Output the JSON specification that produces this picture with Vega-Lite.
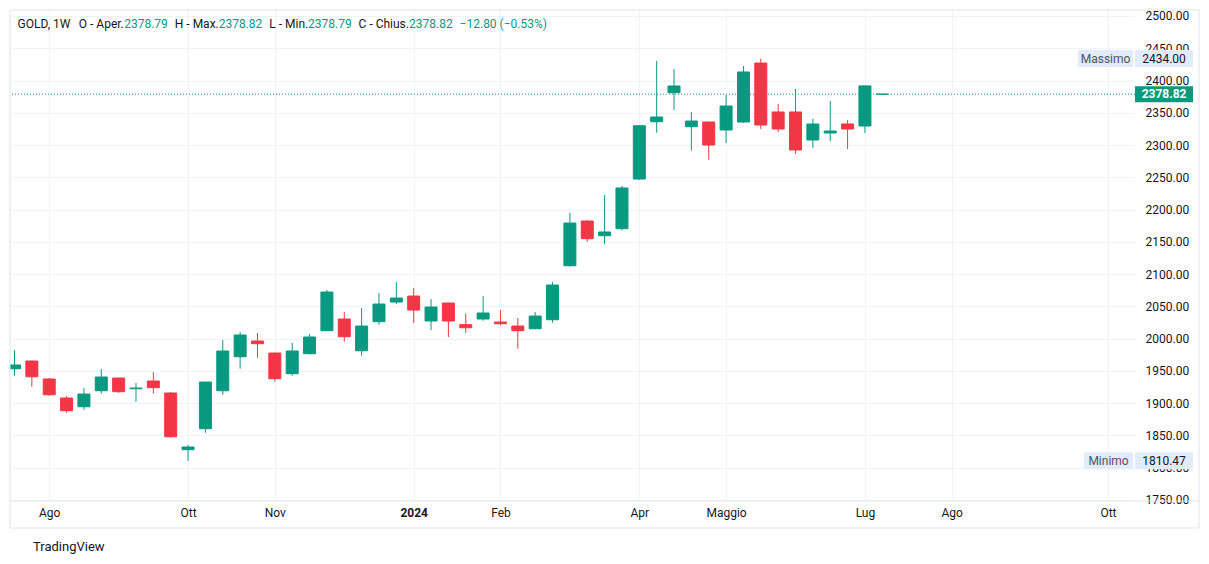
{
  "$schema": "https://vega.github.io/schema/vega-lite/v6.json",
  "width": 1125,
  "height": 491,
  "autosize": {"type": "none"},
  "padding": {"left": 10, "top": 10, "right": 74, "bottom": 63},
  "background": "white",
  "title": {"text": "TradingView", "orient": "bottom", "anchor": "start", "frame": "group", "dx": 23, "offset": 13, "fontSize": 13, "font": "Roboto", "fontWeight": "normal", "color": "#131722"},
  "config": {"view": {"stroke": null}, "font": "Roboto"},
  "resolve": {"axis": {"x": "independent", "y": "independent"}},
  "datasets": {
    "candles": [
      {"d": "2023-07-24", "o": 1953.2, "h": 1982.2, "l": 1942.4, "c": 1959.0},
      {"d": "2023-07-31", "o": 1965.2, "h": 1965.5, "l": 1925.3, "c": 1940.8},
      {"d": "2023-08-07", "o": 1937.3, "h": 1938.8, "l": 1911.4, "c": 1912.9},
      {"d": "2023-08-14", "o": 1907.8, "h": 1910.9, "l": 1885.0, "c": 1888.1},
      {"d": "2023-08-21", "o": 1894.3, "h": 1923.3, "l": 1889.7, "c": 1914.0},
      {"d": "2023-08-28", "o": 1919.1, "h": 1952.8, "l": 1914.5, "c": 1940.4},
      {"d": "2023-09-04", "o": 1938.8, "h": 1939.0, "l": 1916.0, "c": 1917.6},
      {"d": "2023-09-11", "o": 1922.2, "h": 1931.1, "l": 1902.1, "c": 1923.3},
      {"d": "2023-09-18", "o": 1934.2, "h": 1948.1, "l": 1914.5, "c": 1923.8},
      {"d": "2023-09-25", "o": 1915.6, "h": 1917.1, "l": 1846.3, "c": 1847.8},
      {"d": "2023-10-02", "o": 1827.7, "h": 1835.0, "l": 1810.47, "c": 1831.9},
      {"d": "2023-10-09", "o": 1860.2, "h": 1932.8, "l": 1854.0, "c": 1932.6},
      {"d": "2023-10-16", "o": 1919.1, "h": 1997.7, "l": 1912.9, "c": 1980.7},
      {"d": "2023-10-23", "o": 1971.8, "h": 2010.1, "l": 1953.2, "c": 2005.5},
      {"d": "2023-10-30", "o": 1996.2, "h": 2008.6, "l": 1970.3, "c": 1992.0},
      {"d": "2023-11-06", "o": 1977.6, "h": 1978.0, "l": 1933.1, "c": 1937.7},
      {"d": "2023-11-13", "o": 1945.5, "h": 1993.1, "l": 1942.4, "c": 1980.7},
      {"d": "2023-11-20", "o": 1976.5, "h": 2007.0, "l": 1975.5, "c": 2002.4},
      {"d": "2023-11-27", "o": 2012.2, "h": 2075.2, "l": 2011.5, "c": 2072.1},
      {"d": "2023-12-04", "o": 2030.3, "h": 2041.1, "l": 1995.1, "c": 2002.8},
      {"d": "2023-12-11", "o": 1981.1, "h": 2047.3, "l": 1973.4, "c": 2019.4},
      {"d": "2023-12-18", "o": 2026.1, "h": 2070.6, "l": 2021.5, "c": 2053.5},
      {"d": "2023-12-25", "o": 2056.6, "h": 2087.6, "l": 2053.5, "c": 2062.8},
      {"d": "2024-01-01", "o": 2065.9, "h": 2078.3, "l": 2024.1, "c": 2044.2},
      {"d": "2024-01-08", "o": 2027.2, "h": 2061.3, "l": 2013.2, "c": 2048.9},
      {"d": "2024-01-15", "o": 2055.1, "h": 2055.5, "l": 2002.4, "c": 2027.2},
      {"d": "2024-01-22", "o": 2021.5, "h": 2038.5, "l": 2009.0, "c": 2016.8},
      {"d": "2024-01-29", "o": 2030.3, "h": 2065.9, "l": 2027.6, "c": 2039.6},
      {"d": "2024-02-05", "o": 2025.6, "h": 2044.2, "l": 2021.0, "c": 2023.0},
      {"d": "2024-02-12", "o": 2019.4, "h": 2031.8, "l": 1984.2, "c": 2012.2},
      {"d": "2024-02-19", "o": 2015.2, "h": 2041.1, "l": 2014.5, "c": 2034.9},
      {"d": "2024-02-26", "o": 2029.2, "h": 2087.6, "l": 2024.5, "c": 2083.0},
      {"d": "2024-03-04", "o": 2112.9, "h": 2195.1, "l": 2111.4, "c": 2179.1},
      {"d": "2024-03-11", "o": 2182.2, "h": 2183.8, "l": 2150.1, "c": 2154.8},
      {"d": "2024-03-18", "o": 2159.4, "h": 2222.5, "l": 2147.0, "c": 2165.2},
      {"d": "2024-03-25", "o": 2170.3, "h": 2236.5, "l": 2167.2, "c": 2233.4},
      {"d": "2024-04-01", "o": 2247.3, "h": 2330.5, "l": 2245.8, "c": 2329.9},
      {"d": "2024-04-08", "o": 2336.1, "h": 2430.2, "l": 2319.1, "c": 2343.4},
      {"d": "2024-04-15", "o": 2381.1, "h": 2417.8, "l": 2354.3, "c": 2391.5},
      {"d": "2024-04-22", "o": 2328.4, "h": 2351.2, "l": 2291.2, "c": 2337.2},
      {"d": "2024-04-29", "o": 2335.7, "h": 2336.0, "l": 2277.2, "c": 2300.0},
      {"d": "2024-05-06", "o": 2323.3, "h": 2377.5, "l": 2303.1, "c": 2360.5},
      {"d": "2024-05-13", "o": 2335.7, "h": 2422.5, "l": 2334.1, "c": 2413.2},
      {"d": "2024-05-20", "o": 2427.1, "h": 2434.0, "l": 2324.8, "c": 2331.0},
      {"d": "2024-05-27", "o": 2351.2, "h": 2363.6, "l": 2320.2, "c": 2324.8},
      {"d": "2024-06-03", "o": 2351.2, "h": 2386.8, "l": 2286.1, "c": 2292.3},
      {"d": "2024-06-10", "o": 2307.8, "h": 2340.3, "l": 2295.4, "c": 2332.6},
      {"d": "2024-06-17", "o": 2318.6, "h": 2368.2, "l": 2306.2, "c": 2321.7},
      {"d": "2024-06-24", "o": 2332.6, "h": 2338.8, "l": 2293.8, "c": 2324.8},
      {"d": "2024-07-01", "o": 2329.5, "h": 2392.0, "l": 2318.6, "c": 2391.62},
      {"d": "2024-07-08", "o": 2378.79, "h": 2378.82, "l": 2378.79, "c": 2378.82}
    ],
    "legend": [
      {"seg": "GOLD, 1W", "t": "2023-07-25T05:00:00Z", "kind": "l"},
      {"seg": "O - Aper.", "t": "2023-08-18T22:20:00Z", "kind": "l"},
      {"seg": "2378.79", "t": "2023-09-06T05:50:00Z", "kind": "v"},
      {"seg": "H - Max.", "t": "2023-09-26T15:40:00Z", "kind": "l"},
      {"seg": "2378.82", "t": "2023-10-14T08:40:00Z", "kind": "v"},
      {"seg": "L - Min.", "t": "2023-11-03T18:30:00Z", "kind": "l"},
      {"seg": "2378.79", "t": "2023-11-19T09:10:00Z", "kind": "v"},
      {"seg": "C - Chius.", "t": "2023-12-09T18:40:00Z", "kind": "l"},
      {"seg": "2378.82", "t": "2023-12-30T02:40:00Z", "kind": "v"},
      {"seg": "−12.80 (−0.53%)", "t": "2024-01-19T12:30:00Z", "kind": "v"}
    ]
  },
  "layer": [
    {
      "data": {"name": "candles"},
      "mark": {"type": "rule", "clip": true, "strokeWidth": 1},
      "encoding": {
        "x": {"field": "d", "type": "temporal", "scale": {"type": "utc", "padding": 0, "domain": [{"year": 2023, "month": 7, "date": 22, "hours": 4, "minutes": 26, "utc": true}, {"year": 2024, "month": 10, "date": 17, "hours": 22, "utc": true}]}, "axis": {"orient": "bottom", "title": null, "values": [{"year": 2023, "month": 8, "date": 7, "utc": true}, {"year": 2023, "month": 10, "date": 2, "utc": true}, {"year": 2023, "month": 11, "date": 6, "utc": true}, {"year": 2024, "month": 1, "date": 1, "utc": true}, {"year": 2024, "month": 2, "date": 5, "utc": true}, {"year": 2024, "month": 4, "date": 1, "utc": true}, {"year": 2024, "month": 5, "date": 6, "utc": true}, {"year": 2024, "month": 7, "date": 1, "utc": true}, {"year": 2024, "month": 8, "date": 5, "utc": true}, {"year": 2024, "month": 10, "date": 7, "utc": true}], "labelExpr": "utcmonth(datum.value) == 0 ? utcFormat(datum.value, '%Y') : ['Gen','Feb','Mar','Apr','Maggio','Giu','Lug','Ago','Set','Ott','Nov','Dic'][utcmonth(datum.value)]", "labelFontWeight": {"condition": {"test": "utcmonth(datum.value) == 0", "value": "bold"}, "value": "normal"}, "grid": true, "gridColor": "#f0f3fa", "ticks": false, "domain": false, "labelPadding": 6, "labelFontSize": 12, "labelFont": "Roboto", "labelColor": "#131722", "labelFlush": false, "labelOverlap": false}},
        "y": {"field": "l", "type": "quantitative", "scale": {"domain": [1748.2, 2509.3], "nice": false, "zero": false, "padding": 0}, "axis": {"orient": "right", "title": null, "values": [1750, 1800, 1850, 1900, 1950, 2000, 2050, 2100, 2150, 2200, 2250, 2300, 2350, 2400, 2450, 2500], "format": ".2f", "grid": true, "gridColor": "#f0f3fa", "ticks": false, "domain": false, "labelPadding": 10, "labelFontSize": 12, "labelFont": "Roboto", "labelColor": "#131722", "labelOverlap": false, "labelFlush": false}},
        "y2": {"field": "h"},
        "color": {"condition": {"test": "datum.c >= datum.o", "value": "#089981"}, "value": "#F23645"}
      }
    },
    {
      "data": {"values": [{}]},
      "mark": {"type": "rule", "color": "#089981", "strokeDash": [1, 2], "strokeWidth": 1},
      "encoding": {
        "y": {"datum": 2378.82, "type": "quantitative", "axis": null}
      }
    },
    {
      "data": {"name": "candles"},
      "mark": {"type": "bar", "clip": true, "width": 12, "strokeWidth": 1},
      "encoding": {
        "x": {"field": "d", "type": "temporal", "axis": null},
        "y": {"field": "o", "type": "quantitative", "axis": null},
        "y2": {"field": "c"},
        "color": {"condition": {"test": "datum.c >= datum.o", "value": "#089981"}, "value": "#F23645"},
        "stroke": {"condition": {"test": "datum.c >= datum.o", "value": "#089981"}, "value": "#F23645"}
      }
    },
    {
      "data": {"values": [{}]},
      "mark": {"type": "rect", "filled": false, "stroke": "#e0e3eb", "strokeWidth": 1, "clip": false},
      "encoding": {
        "x": {"datum": {"year": 2023, "month": 7, "date": 22, "hours": 4, "minutes": 26, "utc": true}, "type": "temporal", "axis": null},
        "x2": {"datum": {"year": 2024, "month": 11, "date": 12, "hours": 17, "minutes": 45, "utc": true}},
        "y": {"datum": 2509.3, "type": "quantitative", "axis": null},
        "y2": {"datum": 1706.35}
      }
    },
    {
      "data": {"values": [{}]},
      "mark": {"type": "rule", "color": "#e0e3eb", "strokeWidth": 1, "clip": false},
      "encoding": {
        "x": {"datum": {"year": 2023, "month": 7, "date": 22, "hours": 4, "minutes": 26, "utc": true}, "type": "temporal", "axis": null},
        "x2": {"datum": {"year": 2024, "month": 11, "date": 12, "hours": 17, "minutes": 45, "utc": true}},
        "y": {"datum": 1748.2, "type": "quantitative", "axis": null}
      }
    },
    {
      "data": {"name": "legend"},
      "mark": {"type": "text", "align": "left", "baseline": "middle", "fontSize": 12, "font": "Roboto", "clip": false},
      "encoding": {
        "x": {"field": "t", "type": "temporal", "axis": null},
        "y": {"datum": 2487.6, "type": "quantitative", "axis": null},
        "text": {"field": "seg"},
        "color": {"condition": {"test": "datum.kind == 'v'", "value": "#089981"}, "value": "#131722"}
      }
    },
    {
      "data": {"values": [{"name": "Massimo", "price": 2434.0}]},
      "mark": {"type": "point", "shape": "M-1,-0.309L1,-0.309L1,0.309L-1,0.309Z", "size": 3025, "filled": true, "opacity": 1, "color": "#e1ebf9", "strokeWidth": 0, "clip": false},
      "encoding": {
        "x": {"datum": {"year": 2024, "month": 10, "date": 6, "hours": 1, "utc": true}, "type": "temporal", "axis": null},
        "y": {"field": "price", "type": "quantitative", "axis": null}
      }
    },
    {
      "data": {"values": [{"name": "Minimo", "price": 1810.47}]},
      "mark": {"type": "point", "shape": "M-1,-0.347L1,-0.347L1,0.347L-1,0.347Z", "size": 2401, "filled": true, "opacity": 1, "color": "#e1ebf9", "strokeWidth": 0, "clip": false},
      "encoding": {
        "x": {"datum": {"year": 2024, "month": 10, "date": 7, "hours": 6, "utc": true}, "type": "temporal", "axis": null},
        "y": {"field": "price", "type": "quantitative", "axis": null}
      }
    },
    {
      "data": {"values": [{"name": "Massimo", "price": 2434.0}, {"name": "Minimo", "price": 1810.47}]},
      "mark": {"type": "point", "shape": "M-1,-0.293L1,-0.293L1,0.293L-1,0.293Z", "size": 3364, "filled": true, "opacity": 1, "color": "#e1ebf9", "strokeWidth": 0, "clip": false},
      "encoding": {
        "x": {"datum": {"year": 2024, "month": 10, "date": 29, "hours": 15, "utc": true}, "type": "temporal", "axis": null},
        "y": {"field": "price", "type": "quantitative", "axis": null}
      }
    },
    {
      "data": {"values": [{"name": "Massimo", "price": 2434.0}]},
      "mark": {"type": "text", "align": "center", "baseline": "middle", "fontSize": 12, "font": "Roboto", "color": "#50535e", "clip": false},
      "encoding": {
        "x": {"datum": {"year": 2024, "month": 10, "date": 6, "hours": 1, "utc": true}, "type": "temporal", "axis": null},
        "y": {"field": "price", "type": "quantitative", "axis": null},
        "text": {"field": "name"}
      }
    },
    {
      "data": {"values": [{"name": "Minimo", "price": 1810.47}]},
      "mark": {"type": "text", "align": "center", "baseline": "middle", "fontSize": 12, "font": "Roboto", "color": "#50535e", "clip": false},
      "encoding": {
        "x": {"datum": {"year": 2024, "month": 10, "date": 7, "hours": 6, "utc": true}, "type": "temporal", "axis": null},
        "y": {"field": "price", "type": "quantitative", "axis": null},
        "text": {"field": "name"}
      }
    },
    {
      "data": {"values": [{"name": "Massimo", "price": 2434.0}, {"name": "Minimo", "price": 1810.47}]},
      "mark": {"type": "text", "align": "center", "baseline": "middle", "fontSize": 12, "font": "Roboto", "color": "#131722", "clip": false},
      "encoding": {
        "x": {"datum": {"year": 2024, "month": 10, "date": 29, "hours": 15, "utc": true}, "type": "temporal", "axis": null},
        "y": {"field": "price", "type": "quantitative", "axis": null},
        "text": {"field": "price", "type": "quantitative", "format": ".2f"}
      }
    },
    {
      "data": {"values": [{"name": "last", "price": 2378.82}]},
      "mark": {"type": "point", "shape": "M-1,-0.276L1,-0.276L1,0.276L-1,0.276Z", "size": 3364, "filled": true, "opacity": 1, "color": "#089981", "strokeWidth": 0, "clip": false},
      "encoding": {
        "x": {"datum": {"year": 2024, "month": 10, "date": 29, "hours": 15, "utc": true}, "type": "temporal", "axis": null},
        "y": {"field": "price", "type": "quantitative", "axis": null}
      }
    },
    {
      "data": {"values": [{"name": "last", "price": 2378.82}]},
      "mark": {"type": "text", "align": "center", "baseline": "middle", "fontSize": 12, "font": "Roboto", "fontWeight": "bold", "color": "white", "clip": false},
      "encoding": {
        "x": {"datum": {"year": 2024, "month": 10, "date": 29, "hours": 15, "utc": true}, "type": "temporal", "axis": null},
        "y": {"field": "price", "type": "quantitative", "axis": null},
        "text": {"field": "price", "type": "quantitative", "format": ".2f"}
      }
    }
  ]
}
